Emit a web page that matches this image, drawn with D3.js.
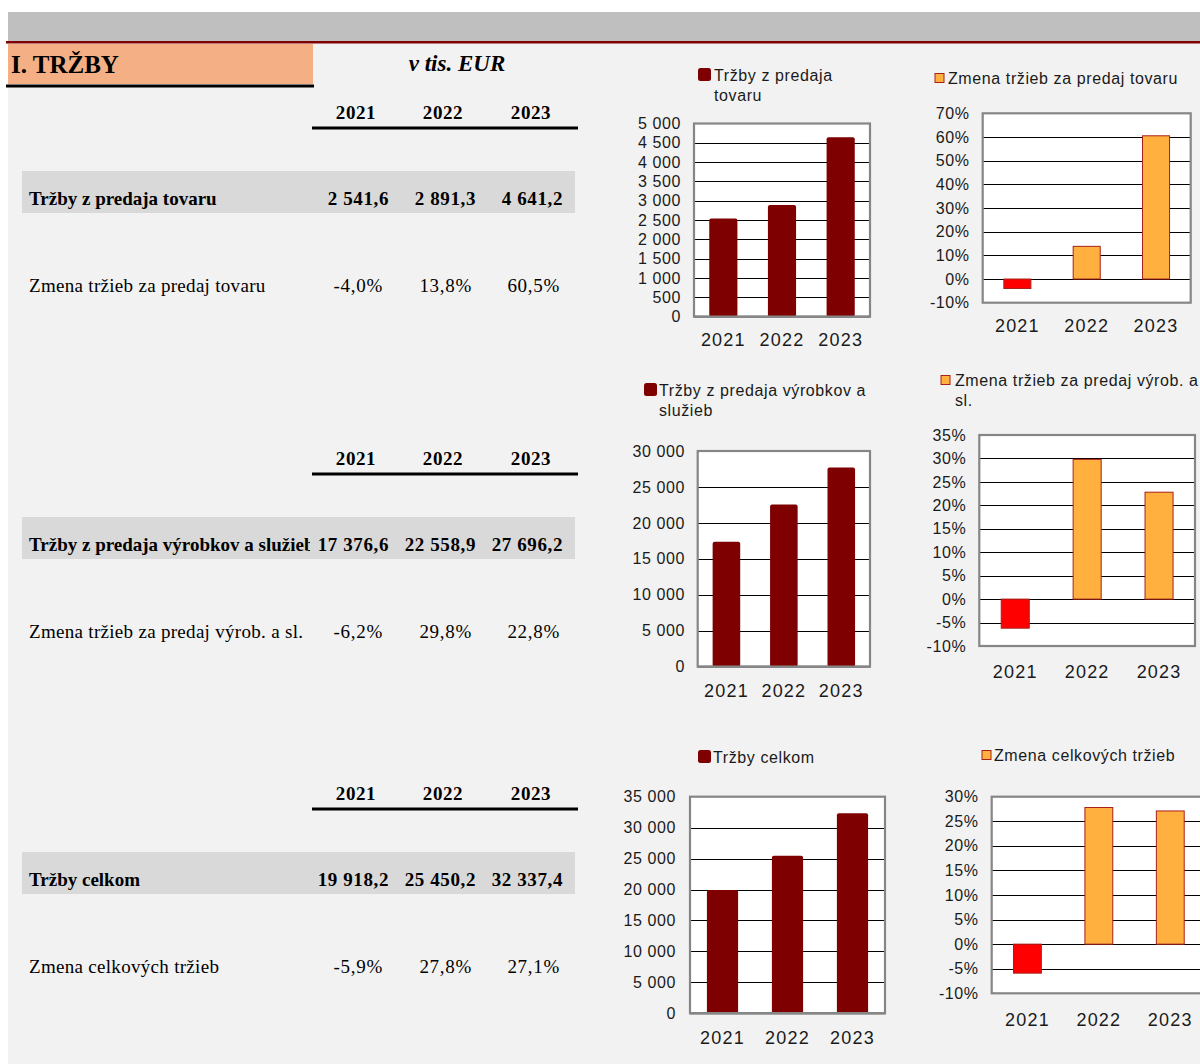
<!DOCTYPE html>
<html><head><meta charset="utf-8">
<script src="https://cdn.jsdelivr.net/npm/d3@7"></script>
<style>
html,body{margin:0;padding:0;background:#fff;}
svg{display:block;}
.serif{font-family:"Liberation Serif","Times New Roman",serif;}
.sans{font-family:"Liberation Sans",Arial,sans-serif;}
</style></head>
<body>
<svg id="c" width="1200" height="1064"></svg>
<script>
// ---------- DATA ----------
const years = ["2021", "2022", "2023"];
const rowLabels = ["Tržby z predaja tovaru", "Tržby z predaja výrobkov a služieb", "Tržby celkom"];
const changeLabels = ["Zmena tržieb za predaj tovaru", "Zmena tržieb za predaj výrob. a sl.", "Zmena celkových tržieb"];
const trzbyTovar = [2541.6, 2891.3, 4641.2];
const zmenaTovar = [-4.0, 13.8, 60.5];
const trzbyVyrobky = [17376.6, 22558.9, 27696.2];
const zmenaVyrobky = [-6.2, 29.8, 22.8];
const trzbyCelkom = [19918.2, 25450.2, 32337.4];
const zmenaCelkom = [-5.9, 27.8, 27.1];
const legendTovar = ["Tržby z predaja", "tovaru"];
const legendZmenaTovar = ["Zmena tržieb za predaj tovaru"];
const legendVyrobky = ["Tržby z predaja výrobkov a", "služieb"];
const legendZmenaVyrobky = ["Zmena tržieb za predaj výrob. a", "sl."];
const legendCelkom = ["Tržby celkom"];
const legendZmenaCelkom = ["Zmena celkových tržieb"];
const ticksTovar = [0, 500, 1000, 1500, 2000, 2500, 3000, 3500, 4000, 4500, 5000];
const ticksZmenaTovar = [-10, 0, 10, 20, 30, 40, 50, 60, 70];
const ticksVyrobky = [0, 5000, 10000, 15000, 20000, 25000, 30000];
const ticksZmenaVyrobky = [-10, -5, 0, 5, 10, 15, 20, 25, 30, 35];
const ticksCelkom = [0, 5000, 10000, 15000, 20000, 25000, 30000, 35000];
const ticksZmenaCelkom = [-10, -5, 0, 5, 10, 15, 20, 25, 30];

// ---------- FORMATS ----------
const loc = d3.formatLocale({decimal: ",", thousands: " ", grouping: [3], currency: ["", " €"], minus: "-"});
const fmtVal = loc.format(",.1f");
const fmtTick = loc.format(",.0f");
const fmtPct1 = d => loc.format(".1f")(d) + "%";
const fmtPct0 = d => loc.format(".0f")(d) + "%";

const svg = d3.select("#c");

// ---------- BACKGROUND ----------
svg.append("rect").attr("x", 8).attr("y", 12).attr("width", 1192).attr("height", 1052).attr("fill", "#f2f2f2");
svg.append("rect").attr("x", 8).attr("y", 12).attr("width", 1192).attr("height", 29).attr("fill", "#bfbfbf");
svg.append("rect").attr("x", 6).attr("y", 41).attr("width", 1194).attr("height", 2.5).attr("fill", "#7f0000");
svg.append("rect").attr("x", 8).attr("y", 44).attr("width", 305).attr("height", 40).attr("fill", "#f4b084");
svg.append("rect").attr("x", 6).attr("y", 84.5).attr("width", 308).attr("height", 3).attr("fill", "#000");
svg.append("text").attr("class", "serif").attr("x", 11).attr("y", 73)
  .attr("font-size", 25).attr("font-weight", "bold").attr("fill", "#000").text("I. TRŽBY");
svg.append("text").attr("class", "serif").attr("x", 457).attr("y", 71).attr("text-anchor", "middle")
  .attr("font-size", 23).attr("font-weight", "bold").attr("font-style", "italic").attr("fill", "#000").text("v tis. EUR");

// ---------- TABLE ----------
svg.append("defs").append("clipPath").attr("id", "lblclip")
  .append("rect").attr("x", 0).attr("y", 0).attr("width", 310).attr("height", 1064);

const yearCenters = [356, 443, 531];
const valRights = [389, 476, 563];
const pctRights = [383, 472, 560];
const sectionOffsets = [0, 346, 681];
const tableValues = [trzbyTovar, trzbyVyrobky, trzbyCelkom];
const tableChanges = [zmenaTovar, zmenaVyrobky, zmenaCelkom];

sectionOffsets.forEach((off, i) => {
  const g = svg.append("g").attr("transform", `translate(0,${off})`);
  g.selectAll("text.yr").data(years).join("text").attr("class", "serif")
    .attr("x", (d, j) => yearCenters[j]).attr("y", 119).attr("text-anchor", "middle")
    .attr("font-size", 19).attr("font-weight", "bold").attr("letter-spacing", 0.6).attr("fill", "#000").text(d => d);
  g.append("rect").attr("x", 312).attr("y", 126.5).attr("width", 266).attr("height", 3).attr("fill", "#000");
  g.append("rect").attr("x", 22).attr("y", 171).attr("width", 553).attr("height", 42).attr("fill", "#d9d9d9");
  g.append("text").attr("class", "serif").attr("x", 29).attr("y", 205).attr("clip-path", "url(#lblclip)")
    .attr("font-size", 19).attr("font-weight", "bold").attr("fill", "#000").text(rowLabels[i]);
  g.selectAll("text.v").data(tableValues[i]).join("text").attr("class", "serif")
    .attr("x", (d, j) => valRights[j]).attr("y", 205).attr("text-anchor", "end")
    .attr("font-size", 19).attr("font-weight", "bold").attr("letter-spacing", 0.6).attr("fill", "#000").text(d => fmtVal(d));
  g.append("text").attr("class", "serif").attr("x", 29).attr("y", 292)
    .attr("font-size", 19).attr("letter-spacing", 0.3).attr("fill", "#000").text(changeLabels[i]);
  g.selectAll("text.p").data(tableChanges[i]).join("text").attr("class", "serif")
    .attr("x", (d, j) => pctRights[j]).attr("y", 292).attr("text-anchor", "end")
    .attr("font-size", 19).attr("letter-spacing", 0.7).attr("fill", "#000").text(d => fmtPct1(d));
});

// ---------- CHARTS ----------
function chart(cfg) {
  const g = svg.append("g");
  const isPct = cfg.kind === "pct";
  const pad = isPct ? 0.61 : 0.52;
  const x = d3.scaleBand().domain(years).range([cfg.x0, cfg.x1]).paddingInner(pad).paddingOuter(pad / 2);
  const y = d3.scaleLinear().domain([cfg.ticks[0], cfg.ticks[cfg.ticks.length - 1]]).range([cfg.y1, cfg.y0]);

  g.append("rect").attr("x", cfg.x0).attr("y", cfg.y0).attr("width", cfg.x1 - cfg.x0).attr("height", cfg.y1 - cfg.y0)
    .attr("fill", "#fff");
  g.selectAll("line.grid").data(cfg.ticks.slice(1, -1)).join("line")
    .attr("x1", cfg.x0).attr("x2", cfg.x1).attr("y1", d => Math.round(y(d)) + 0.5).attr("y2", d => Math.round(y(d)) + 0.5)
    .attr("stroke", "#000").attr("stroke-width", 1);
  g.append("rect").attr("x", cfg.x0).attr("y", cfg.y0).attr("width", cfg.x1 - cfg.x0).attr("height", cfg.y1 - cfg.y0)
    .attr("fill", "none").attr("stroke", "#868686").attr("stroke-width", 2.2);

  if (isPct) {
    g.selectAll("rect.bar").data(cfg.values).join("rect")
      .attr("x", (d, i) => x(years[i])).attr("width", x.bandwidth())
      .attr("y", d => y(Math.max(0, d))).attr("height", d => Math.abs(y(d) - y(0)))
      .attr("fill", d => d < 0 ? "#ff0000" : "#ffb03f").attr("stroke", "#a8201a").attr("stroke-width", 1);
  } else {
    g.selectAll("rect.bar").data(cfg.values).join("rect")
      .attr("x", (d, i) => x(years[i])).attr("width", x.bandwidth())
      .attr("y", d => y(d)).attr("height", d => y(0) - y(d))
      .attr("rx", 2).attr("fill", "#7f0000");
    g.append("line").attr("x1", cfg.x0).attr("x2", cfg.x1).attr("y1", cfg.y1).attr("y2", cfg.y1)
      .attr("stroke", "#868686").attr("stroke-width", 2.5);
  }

  const ya = g.append("g").attr("transform", `translate(${cfg.x0},0)`)
    .call(d3.axisLeft(y).tickValues(cfg.ticks).tickSize(0).tickPadding(cfg.lpad || 13)
      .tickFormat(isPct ? fmtPct0 : fmtTick));
  ya.select(".domain").remove();
  ya.selectAll("text").attr("font-family", "Liberation Sans, Arial, sans-serif").attr("font-size", 16)
    .attr("fill", "#1a1a1a").attr("letter-spacing", 0.6);

  const xa = g.append("g").attr("transform", `translate(0,${cfg.y1})`)
    .call(d3.axisBottom(x).tickSize(0).tickPadding(cfg.xpad || 18));
  xa.select(".domain").remove();
  xa.selectAll("text").attr("font-family", "Liberation Sans, Arial, sans-serif").attr("font-size", 18)
    .attr("fill", "#1a1a1a").attr("letter-spacing", 1.2);

  // legend
  const lg = g.append("g");
  if (isPct) {
    lg.append("rect").attr("x", cfg.mx).attr("y", cfg.my - 4.5).attr("width", 9).attr("height", 9)
      .attr("fill", "#ffb03f").attr("stroke", "#a8201a").attr("stroke-width", 1);
  } else {
    lg.append("rect").attr("x", cfg.mx).attr("y", cfg.my - 7).attr("width", 13).attr("height", 13)
      .attr("rx", 2.5).attr("fill", "#7f0000");
  }
  lg.selectAll("text").data(cfg.legend).join("text")
    .attr("x", cfg.tx).attr("y", (d, i) => cfg.my + 5.5 + i * 20)
    .attr("font-family", "Liberation Sans, Arial, sans-serif").attr("font-size", 16)
    .attr("letter-spacing", 0.6).attr("fill", "#1a1a1a").text(d => d);
}

chart({kind: "bar", x0: 694, x1: 870, y0: 123.5, y1: 316.7, ticks: ticksTovar, values: trzbyTovar,
  legend: legendTovar, mx: 698, my: 75, tx: 714, xpad: 17});
chart({kind: "pct", x0: 982.7, x1: 1190.7, y0: 113.3, y1: 302.7, ticks: ticksZmenaTovar, values: zmenaTovar,
  legend: legendZmenaTovar, mx: 935, my: 78, tx: 948, xpad: 17});
chart({kind: "bar", x0: 697.7, x1: 870, y0: 451, y1: 666.7, ticks: ticksVyrobky, values: trzbyVyrobky,
  legend: legendVyrobky, mx: 644, my: 390, tx: 659, xpad: 18, lpad: 12.7});
chart({kind: "pct", x0: 979.3, x1: 1195, y0: 435, y1: 646, ticks: ticksZmenaVyrobky, values: zmenaVyrobky,
  legend: legendZmenaVyrobky, mx: 941, my: 380, tx: 955, xpad: 19});
chart({kind: "bar", x0: 690, x1: 885, y0: 796.7, y1: 1013.3, ticks: ticksCelkom, values: trzbyCelkom,
  legend: legendCelkom, mx: 698, my: 757, tx: 713, xpad: 18, lpad: 14});
chart({kind: "pct", x0: 991.7, x1: 1206, y0: 796.7, y1: 993.3, ticks: ticksZmenaCelkom, values: zmenaCelkom,
  legend: legendZmenaCelkom, mx: 982, my: 755, tx: 994, xpad: 20});
</script>
</body></html>
